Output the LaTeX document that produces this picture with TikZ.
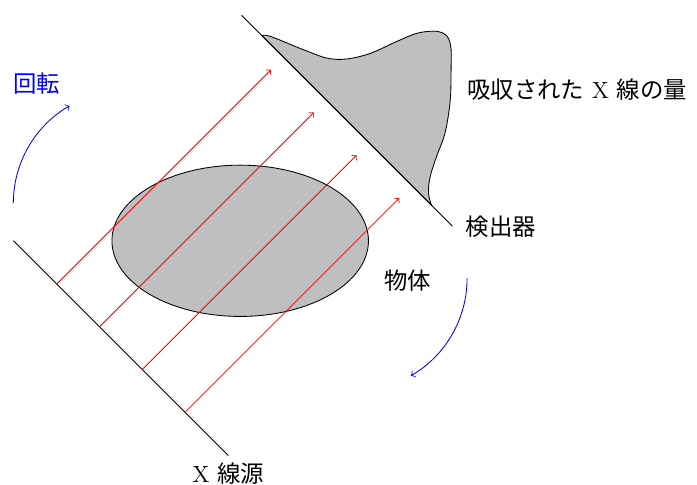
\documentclass[tikz,border=0pt]{standalone}
\usepackage{fontspec}
\newfontfamily\jpfont{Noto Sans CJK JP}
\usetikzlibrary{positioning,calc}

\begin{document}
\begin{tikzpicture}[font=\fontsize{11}{13}\selectfont, ray/.style={red,->}, rot/.style={blue,->}, obj/.style={draw, fill=lightgray}]
\useasboundingbox (-3.97,-4.03) rectangle (7.55,3.98);
\draw[obj] (0,0) ellipse [x radius=2.12, y radius=1.25];
\begin{scope}[rotate=-45]
\coordinate (s0) at (-2.65,-2.65);
\coordinate (s1) at (2.37,-2.65);
\coordinate (d0) at (-2.62,2.65);
\coordinate (d1) at (2.31,2.65);
% absorbed amount
\draw[obj] plot[smooth, tension=0.55] coordinates {(-2.14,2.65) (-2.04,2.74) (-1.50,2.97) (-1.12,3.15) (-0.88,3.37) (-0.67,3.71) (-0.50,4.16) (-0.36,4.49) (-0.19,4.71) (-0.05,4.80) (0.07,4.80) (0.23,4.70) (0.43,4.50) (0.81,4.10) (1.13,3.66) (1.31,3.28) (1.47,2.97) (1.64,2.76) (1.82,2.65)} -- cycle;
\draw (s0) -- (s1);
\draw (d0) -- (d1);
\foreach \v [count=\i] in {-1.64,-0.64,0.36,1.36}{
  \coordinate (a\i) at (\v,-2.65);
  \coordinate (b\i) at (\v,2.36);
  \draw[ray] (a\i) -- (b\i);
}
\end{scope}
% rotation
\coordinate (r0) at (-3.75,0.62);
\coordinate (r1) at (3.75,-0.62);
\draw[rot] (r0) arc[start angle=180, end angle=120, radius=1.86];
\draw[rot] (r1) arc[start angle=0, end angle=-60, radius=1.86];
\node[blue] (rotlbl) at (-3.36,2.60) {\jpfont 回転};
\node[right=0.1cm of d1] (detlbl) {\jpfont 検出器};
\node[below=0pt of s1] (srclbl) {X {\jpfont 線源}};
\node (objlbl) at (2.77,-0.65) {\jpfont 物体};
\node[anchor=west] (amtlbl) at (3.63,2.50) {{\jpfont 吸収された} X {\jpfont 線の量}};
\end{tikzpicture}
\end{document}
